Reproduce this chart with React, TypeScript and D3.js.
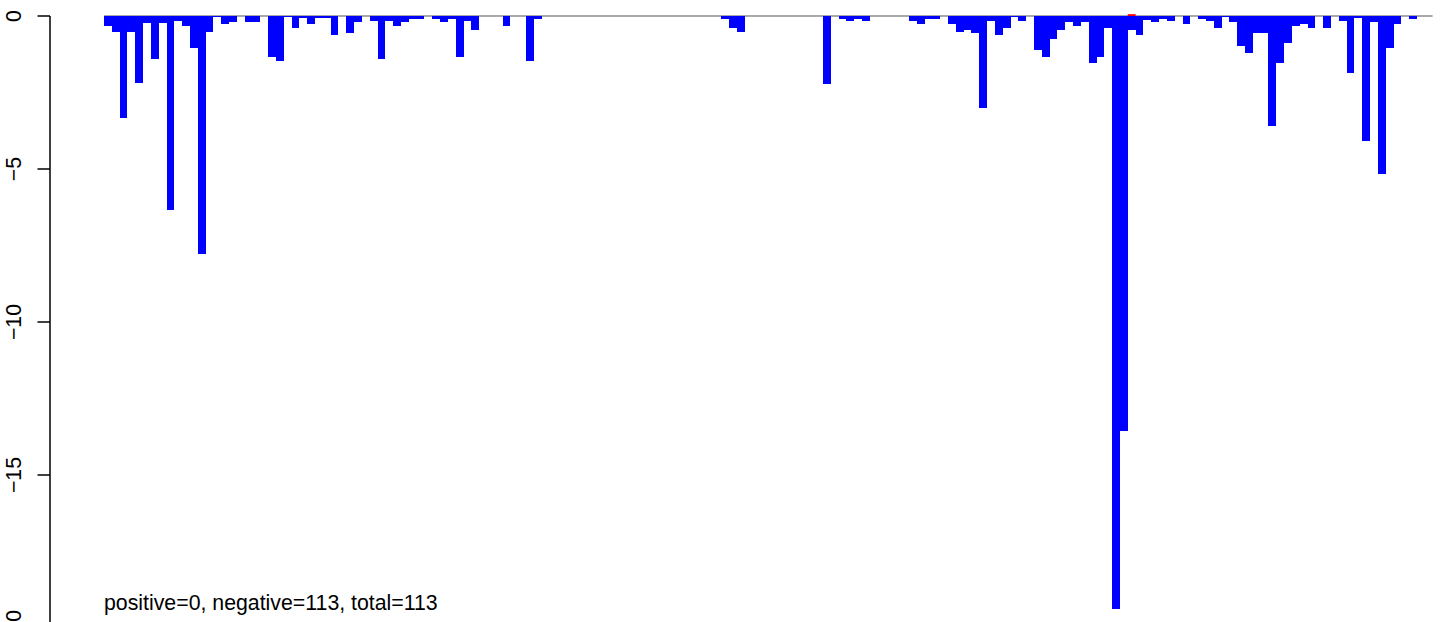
import React, { useEffect, useRef } from 'react';
import * as d3 from 'd3';

// one value per window (170 windows)
const negValues: number[] = [
  -0.32, -0.51, -3.34, -0.51, -2.18, -0.24, -1.39, -0.24, -6.33, -0.15,
  -0.32, -1.03, -7.77, -0.51, -0.03, -0.25, -0.19, 0, -0.19, -0.19,
  0, -1.33, -1.47, -0.03, -0.38, -0.08, -0.25, -0.06, -0.06, -0.61,
  0, -0.54, -0.19, 0, -0.15, -1.39, -0.15, -0.32, -0.19, -0.09,
  -0.09, 0, -0.09, -0.19, -0.09, -1.33, -0.15, -0.45, 0, 0,
  0, -0.32, 0, 0, -1.47, -0.09, 0, 0, 0, 0,
  0, 0, 0, 0, 0, 0, 0, 0, 0, 0,
  0, 0, 0, 0, 0, 0, 0, 0, 0, -0.09,
  -0.38, -0.51, 0, 0, 0, 0, 0, 0, 0, 0,
  0, 0, -2.21, 0, -0.09, -0.15, -0.09, -0.15, 0, 0,
  0, 0, 0, -0.15, -0.25, -0.09, -0.09, 0, -0.25, -0.51,
  -0.45, -0.54, -3.0, -0.15, -0.61, -0.38, -0.03, -0.15, 0, -1.10,
  -1.33, -0.74, -0.45, -0.19, -0.32, -0.19, -1.53, -1.33, -0.38, -19.38,
  -13.56, -0.45, -0.61, -0.12, -0.19, -0.09, -0.15, 0, -0.25, 0,
  -0.09, -0.15, -0.38, -0.03, -0.19, -0.97, -1.20, -0.54, -0.54, -3.58,
  -1.53, -0.87, -0.32, -0.25, -0.38, 0, -0.38, 0, -0.15, -1.85,
  -0.05, -4.07, -0.19, -5.15, -1.03, -0.25, 0, -0.09, 0, 0,
];

// the single red sliver above the baseline
const posIndex = [131];
const posValues = [0.06];

const yTicks = [0, -5, -10, -15, -20];
const summary = 'positive=0, negative=113, total=113';

const W = 1444;
const H = 622;
const FONT = 'Liberation Sans, Arial, Helvetica, sans-serif';

export default function App() {
  const svgRef = useRef<SVGSVGElement>(null);

  useEffect(() => {
    if (!svgRef.current) return;
    const svg = d3.select(svgRef.current);
    svg.selectAll('*').remove();

    const n = negValues.length;
    const x = d3.scaleLinear().domain([0, n]).range([104, 1432.6]);
    const y = d3.scaleLinear().domain([0, -20]).range([16, 628]);

    // zero line under the bars
    svg.append('line')
      .attr('x1', x(0))
      .attr('x2', x(n))
      .attr('y1', y(0))
      .attr('y2', y(0))
      .attr('stroke', '#8c8c8c')
      .attr('stroke-width', 1.4);

    svg.append('g')
      .selectAll('rect')
      .data(negValues.map((v, i) => ({ v, i })).filter(d => d.v < 0))
      .enter()
      .append('rect')
      .attr('x', d => x(d.i))
      .attr('width', d => x(d.i + 1) - x(d.i))
      .attr('y', y(0))
      .attr('height', d => y(d.v) - y(0))
      .attr('fill', '#0000ff')
      .attr('shape-rendering', 'crispEdges');

    svg.append('g')
      .selectAll('rect')
      .data(posIndex.map((i, k) => ({ i, v: posValues[k] })))
      .enter()
      .append('rect')
      .attr('x', d => x(d.i))
      .attr('width', d => x(d.i + 1) - x(d.i))
      .attr('y', d => y(d.v))
      .attr('height', d => y(0) - y(d.v))
      .attr('fill', '#ff0000');

    // y axis, R style: ticks to the left, labels rotated
    const axisX = 50;
    svg.append('line')
      .attr('x1', axisX).attr('x2', axisX)
      .attr('y1', y(0)).attr('y2', y(-20))
      .attr('stroke', '#000')
      .attr('stroke-width', 1.5);
    svg.append('g')
      .selectAll('line')
      .data(yTicks)
      .enter()
      .append('line')
      .attr('x1', axisX - 12.5).attr('x2', axisX)
      .attr('y1', d => y(d)).attr('y2', d => y(d))
      .attr('stroke', '#000')
      .attr('stroke-width', 1.5);

    svg.append('g')
      .selectAll('text')
      .data(yTicks)
      .enter()
      .append('text')
      .attr('transform', d => `translate(21,${y(d)}) rotate(-90)`)
      .attr('text-anchor', 'middle')
      .attr('font-family', FONT)
      .attr('font-size', 21.3)
      .attr('fill', '#000')
      .text(d => (d < 0 ? '\u2212' + Math.abs(d) : String(d)));

    svg.append('text')
      .attr('x', 104)
      .attr('y', 610)
      .attr('font-family', FONT)
      .attr('font-size', 21.3)
      .attr('fill', '#000')
      .text(summary);
  }, []);

  return (
    <div style={{ position: 'absolute', left: 0, top: 0, width: W, height: H, background: '#fff' }}>
      <svg ref={svgRef} width={W} height={H} style={{ display: 'block' }}></svg>
    </div>
  );
}
